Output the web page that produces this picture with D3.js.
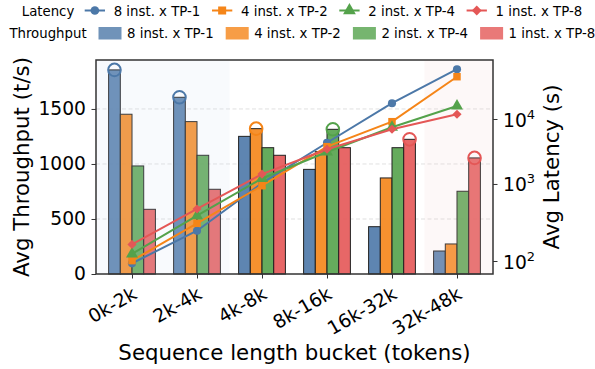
<!DOCTYPE html>
<html><head><meta charset="utf-8">
<script src="https://cdn.jsdelivr.net/npm/d3@7"></script>
<style>
body{margin:0;background:#fff}
text{font-family:"DejaVu Sans",sans-serif;fill:#000}
</style>
</head><body>
<svg id="c" width="595" height="369"></svg>
<script>
// ---- data ----
const buckets = ["0k-2k","2k-4k","4k-8k","8k-16k","16k-32k","32k-48k"];
const configs = ["8 inst. x TP-1","4 inst. x TP-2","2 inst. x TP-4","1 inst. x TP-8"];
const thr8x1 = [1855,1606,1251,951,430,209];
const thr4x2 = [1452,1385,1321,1112,873,273];
const thr2x4 = [982,1079,1148,1315,1148,752];
const thr1x8 = [588,770,1079,1148,1224,1055];
const lat8x1 = [94,234,1030,4150,18400,73000];
const lat4x2 = [101,291,945,3600,9030,53500];
const lat2x4 = [121,366,1200,2980,7320,16500];
const lat1x8 = [158,450,1390,3280,6800,12000];
const leftTicks = [0,500,1000,1500];
const rightTicks = [100,1000,10000];
const shadeBlue = ["0k-2k","2k-4k"];
const shadeRed = ["32k-48k"];

const thr = [thr8x1,thr4x2,thr2x4,thr1x8];
const lat = [lat8x1,lat4x2,lat2x4,lat1x8];
const colors = ["#4c78a8","#f58518","#54a24b","#e45756"];
const shapes = ["circle","square","triangle","diamond"];

// ---- layout ----
const L=96,R=493,T=60,B=274;
const svg=d3.select("#c");
const x = d3.scalePoint().domain(buckets).range([L,R]).padding(0.554);
const step = x.step();
const sub = d3.scaleBand().domain(configs).range([-0.36*step,0.36*step]);
const bw = sub.bandwidth();
const yL = d3.scaleLinear().domain([0,1945]).range([B,T]);
const yRlin = d3.scaleLinear().domain([Math.sqrt(2),2]).range([261,119]);
const yR = v => yRlin(Math.sqrt(Math.log10(v)));

function symPath(shape, size){
  const t = {circle:d3.symbolCircle,square:d3.symbolSquare,triangle:d3.symbolTriangle,diamond:d3.symbolSquare}[shape];
  return d3.symbol(t,size)();
}
const symSize = {circle:52,square:56,triangle:62,diamond:42};

// gridlines
svg.append("g").selectAll("line").data(leftTicks.filter(d=>d>0)).join("line")
  .attr("x1",L).attr("x2",R).attr("y1",d=>yL(d)).attr("y2",d=>yL(d))
  .attr("stroke","#d8d8d8").attr("stroke-width",0.8).attr("stroke-dasharray","4,2.5");

// bars
configs.forEach((c,i)=>{
  svg.append("g").selectAll("rect").data(buckets).join("rect")
    .attr("x",(b)=>x(b)+sub(c)).attr("width",bw)
    .attr("y",(b,j)=>yL(thr[i][j])).attr("height",(b,j)=>B-yL(thr[i][j]))
    .attr("fill",colors[i]).attr("fill-opacity",0.9)
    .attr("stroke","#222").attr("stroke-width",1);
});

// shading
const mid = (a,b)=>(x(a)+x(b))/2;
const bx0 = L, bx1 = mid(shadeBlue[shadeBlue.length-1], buckets[buckets.indexOf(shadeBlue[shadeBlue.length-1])+1]);
svg.append("rect").attr("x",bx0).attr("y",T).attr("width",bx1-bx0).attr("height",B-T)
  .attr("fill","#d0ddf2").attr("fill-opacity",0.15);
const rx0 = mid(buckets[buckets.indexOf(shadeRed[0])-1], shadeRed[0]);
svg.append("rect").attr("x",rx0).attr("y",T).attr("width",R-rx0).attr("height",B-T)
  .attr("fill","#f2d0d0").attr("fill-opacity",0.15);

// best markers
buckets.forEach((b,j)=>{
  const k = d3.maxIndex(thr, s=>s[j]);
  svg.append("circle").attr("cx",x(b)+sub(configs[k])+bw/2).attr("cy",yL(thr[k][j]))
    .attr("r",6.3).attr("fill","none").attr("stroke",colors[k]).attr("stroke-width",2);
});

// latency lines
const line = d3.line().x(d=>x(d.b)).y(d=>yR(d.v));
configs.forEach((c,i)=>{
  const pts = buckets.map((b,j)=>({b, v:lat[i][j]}));
  svg.append("path").datum(pts).attr("d",line).attr("fill","none")
    .attr("stroke",colors[i]).attr("stroke-width",2);
  svg.append("g").selectAll("path").data(pts).join("path")
    .attr("d",symPath(shapes[i],symSize[shapes[i]]))
    .attr("transform",d=>`translate(${x(d.b)},${yR(d.v)})`+(shapes[i]==="diamond"?" rotate(45)":""))
    .attr("fill",colors[i]);
});

// frame
svg.append("rect").attr("x",L).attr("y",T).attr("width",R-L).attr("height",B-T)
  .attr("fill","none").attr("stroke","#333").attr("stroke-width",1.5);

// left axis
const gL = svg.append("g").attr("transform",`translate(${L},0)`)
  .call(d3.axisLeft(yL).tickValues(leftTicks).tickSize(4.5).tickPadding(5.5).tickFormat(d3.format("d")));
gL.select(".domain").remove();
gL.selectAll("text").style("font-size","18.7px").style("font-family","DejaVu Sans");
gL.selectAll("line").attr("stroke","#333");

// right axis
const yRaxis = v=>yR(v); yRaxis.copy=()=>yRaxis; yRaxis.range=()=>[B,T]; yRaxis.domain=()=>[70,110000];
const gR = svg.append("g").attr("transform",`translate(${R},0)`)
  .call(d3.axisRight(yRaxis).tickValues(rightTicks).tickSize(4.5).tickPadding(5.5).tickFormat(()=>""));
gR.select(".domain").remove();
gR.selectAll("line").attr("stroke","#333");
gR.selectAll(".tick text").each(function(d){
  const t = d3.select(this).attr("dy",null).attr("y",7).style("font-size","18.7px").style("font-family","DejaVu Sans");
  t.append("tspan").text("10");
  t.append("tspan").attr("dy",-8).style("font-size","13px").text(Math.round(Math.log10(d)));
});

// bottom axis
const gB = svg.append("g").attr("transform",`translate(0,${B})`)
  .call(d3.axisBottom(x).tickSize(4.5).tickPadding(0));
gB.select(".domain").remove();
gB.selectAll("line").attr("stroke","#333");
gB.selectAll("text").attr("y",null).attr("dy","0.71em").attr("text-anchor","end")
  .attr("transform","translate(-1,12) rotate(-30)")
  .style("font-size","18.7px").style("font-family","DejaVu Sans");

// axis labels
svg.append("text").attr("transform",`translate(29,${(T+B)/2}) rotate(-90)`).attr("text-anchor","middle")
  .style("font-size","21.3px").text("Avg Throughput (t/s)");
svg.append("text").attr("transform",`translate(559,${(T+B)/2}) rotate(-90)`).attr("text-anchor","middle")
  .style("font-size","21.3px").text("Avg Latency (s)");
svg.append("text").attr("x",(L+R)/2).attr("y",360).attr("text-anchor","middle")
  .style("font-size","21.3px").text("Sequence length bucket (tokens)");

// legend
const lg = svg.append("g").style("font-size","13.3px");
lg.append("text").attr("x",48).attr("y",15.5).attr("text-anchor","middle").text("Latency");
lg.append("text").attr("x",48).attr("y",38.3).attr("text-anchor","middle").text("Throughput");
configs.forEach((c,i)=>{
  const x1 = 84.7 + i*127.3;
  lg.append("line").attr("x1",x1).attr("x2",x1+20.3).attr("y1",10.5).attr("y2",10.5)
    .attr("stroke",colors[i]).attr("stroke-width",2);
  lg.append("path").attr("d",symPath(shapes[i],symSize[shapes[i]]*1.15))
    .attr("transform",`translate(${x1+10.15},10.5)`+(shapes[i]==="diamond"?" rotate(45)":""))
    .attr("fill",colors[i]);
  lg.append("text").attr("x",x1+29).attr("y",15.5).text(c);
  const px = 98.5 + i*127.2;
  lg.append("rect").attr("x",px).attr("y",27).attr("width",23).attr("height",12.5)
    .attr("fill",colors[i]).attr("fill-opacity",0.8);
  lg.append("text").attr("x",px+28.5).attr("y",38.3).text(c);
});
</script>
</body></html>
